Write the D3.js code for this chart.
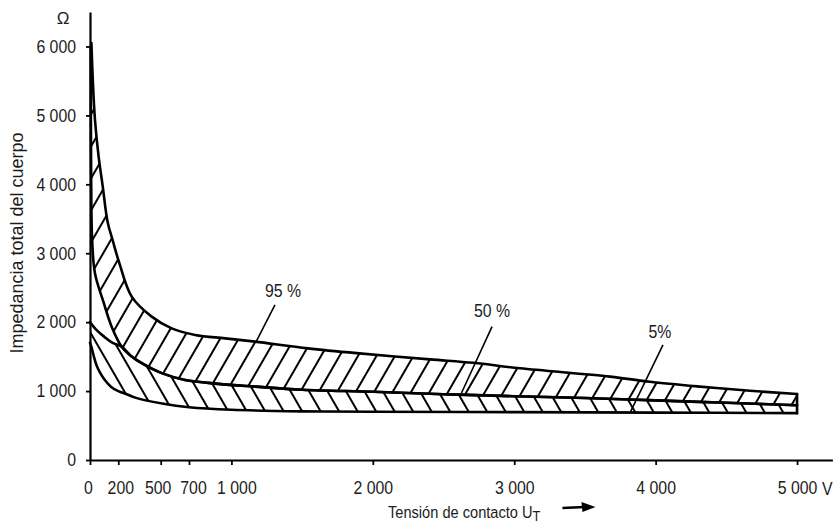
<!DOCTYPE html>
<html>
<head>
<meta charset="utf-8">
<script src="https://cdn.jsdelivr.net/npm/d3@7"></script>
<style>
  html, body { margin: 0; padding: 0; background: #fff; }
  svg { display: block; }
  text { font-family: "Liberation Sans", Arial, Helvetica, sans-serif; fill: #1c1c1c; }
</style>
</head>
<body>
<svg id="chart" width="836" height="526"></svg>
<script>
// ---- Axis ticks ----
const xTickValues = [0, 200, 500, 700, 1000, 2000, 3000, 4000, 5000];
const xTickLabels = ["0", "200", "500", "700", "1 000", "2 000", "3 000", "4 000", "5 000"];
const yTickValues = [0, 1000, 2000, 3000, 4000, 5000, 6000];
const yTickLabels = ["0", "1 000", "2 000", "3 000", "4 000", "5 000", "6 000"];

// ---- 95 % curve: contact voltage (V) / total body impedance (Ω) ----
const volts95 = [10, 20, 35, 60, 90, 125, 160, 207, 295, 436, 578, 743, 955, 1167, 1541, 1886, 2404, 2711, 3041, 3677, 3960, 4314, 4668, 5000];
const ohms95  = [6050, 5500, 4940, 4420, 3970, 3450, 3190, 2860, 2370, 2080, 1910, 1815, 1765, 1717, 1620, 1550, 1460, 1410, 1330, 1210, 1135, 1065, 1005, 958];

// ---- 50 % curve (shared edge of both bands) ----
const volts50 = [224, 290, 366, 507, 672, 907, 1167, 1500, 2000, 2500, 3000, 3500, 4000, 4500, 5000];
const ohms50  = [1645, 1510, 1405, 1260, 1160, 1105, 1065, 1020, 990, 955, 925, 900, 865, 830, 795];

// inner edge of the upper band before it joins the 50 % curve
const voltsUpperInner = [5, 8, 15, 35, 94, 153];
const ohmsUpperInner  = [6000, 4200, 3200, 2710, 2300, 1935];

// outer edge of the lower band before it joins the 50 % curve
const voltsLowerOuter = [0, 40, 100, 160];
const ohmsLowerOuter  = [2000, 1900, 1790, 1700];

// ---- 5 % curve ----
const volts5 = [0, 10, 25, 45, 70, 105, 150, 200, 260, 320, 520, 700, 1000, 1500, 2000, 3000, 4000, 5000];
const ohms5  = [1700, 1640, 1520, 1380, 1270, 1160, 1060, 1000, 955, 905, 815, 765, 728, 706, 700, 695, 688, 680];

// ---- curve labels ----
const curveLabels = ["95 %", "50 %", "5%"];

const svg = d3.select("#chart");

const x = d3.scaleLinear().domain([0, 5250]).range([90, 832.4]);
const y = d3.scaleLinear().domain([0, 6500]).range([460, 12]);

const zip = (vs, os) => vs.map((v, i) => [v, os[i]]);
const curve95 = zip(volts95, ohms95);
const curve50 = zip(volts50, ohms50);
const upperInner = zip(voltsUpperInner, ohmsUpperInner).concat(curve50);
const lowerOuter = zip(voltsLowerOuter, ohmsLowerOuter).concat(curve50);
const curve5 = zip(volts5, ohms5);

const line = d3.line()
  .x(d => x(d[0]))
  .y(d => y(d[1]))
  .curve(d3.curveCatmullRom.alpha(0.5));

const bandPath = (top, bottom) =>
  line(top) + line(bottom.slice().reverse()).replace(/^M/, "L") + "Z";

// ---- hatch patterns ----
const defs = svg.append("defs");
function hatch(id, angle, gap) {
  const p = defs.append("pattern")
    .attr("id", id)
    .attr("patternUnits", "userSpaceOnUse")
    .attr("width", gap)
    .attr("height", 20)
    .attr("patternTransform", `rotate(${angle})`);
  p.append("line")
    .attr("x1", gap / 2).attr("y1", -2)
    .attr("x2", gap / 2).attr("y2", 22)
    .attr("stroke", "#000")
    .attr("stroke-width", 2);
}
hatch("hatchUp", 30, 16);
hatch("hatchDown", -30, 16);

// ---- bands ----
svg.append("path")
  .attr("d", bandPath(curve95, upperInner))
  .attr("fill", "url(#hatchUp)");
svg.append("path")
  .attr("d", bandPath(lowerOuter, curve5))
  .attr("fill", "url(#hatchDown)");

// ---- curves ----
const curves = svg.append("g")
  .attr("fill", "none")
  .attr("stroke", "#000")
  .attr("stroke-width", 2.6)
  .attr("stroke-linejoin", "round")
  .attr("stroke-linecap", "round");
[curve95, upperInner, lowerOuter, curve5].forEach(c => curves.append("path").attr("d", line(c)));

// closing edge at the last voltage
const vEnd = volts95[volts95.length - 1];
curves.append("line")
  .attr("x1", x(vEnd)).attr("x2", x(vEnd))
  .attr("y1", y(ohms95[ohms95.length - 1]))
  .attr("y2", y(ohms5[ohms5.length - 1]));

// ---- axes ----
const squeeze = 0.88;
// small horizontal nudges so the crowded low-voltage labels stay apart
const xLabelNudge = [-2, 2, -3, 4, 5, 0, 0, 0, 0];

const xAxis = svg.append("g")
  .attr("transform", `translate(0,${y(0)})`)
  .call(d3.axisBottom(x)
    .tickValues(xTickValues)
    .tickFormat((d, i) => xTickLabels[i])
    .tickSize(5)
    .tickSizeOuter(0)
    .tickPadding(16));

const yAxis = svg.append("g")
  .attr("transform", `translate(${x(0)},0)`)
  .call(d3.axisLeft(y)
    .tickValues(yTickValues)
    .tickFormat((d, i) => yTickLabels[i])
    .tickSize(4)
    .tickSizeOuter(0)
    .tickPadding(10));

[xAxis, yAxis].forEach(g => {
  g.select(".domain").attr("stroke", "#000").attr("stroke-width", 2.2);
  g.selectAll(".tick line").attr("stroke", "#000").attr("stroke-width", 1.8);
  g.selectAll(".tick text")
    .attr("font-family", null)
    .attr("font-size", 18)
    .attr("fill", "#1c1c1c")
    .attr("transform", `scale(${squeeze},1)`);
});
yAxis.selectAll(".tick text").attr("x", -14 / squeeze);
xAxis.selectAll(".tick text").attr("x", (d, i) => xLabelNudge[i] / squeeze);

// unit labels
const vx = x(vEnd) + 25;
svg.append("text")
  .attr("transform", `translate(${vx},${y(0) + 35}) scale(${squeeze},1)`)
  .attr("font-size", 18)
  .text("V");

svg.append("text")
  .attr("x", 63).attr("y", 24)
  .attr("text-anchor", "middle")
  .attr("font-size", 17)
  .text("Ω");

// axis titles
svg.append("text")
  .attr("transform", "translate(17,243) rotate(-90)")
  .attr("text-anchor", "middle")
  .attr("dy", "0.35em")
  .attr("font-size", 18)
  .text("Impedancia total del cuerpo");

const titleX = 388, titleY = 518, titleSqueeze = 0.86;
const xTitle = svg.append("text")
  .attr("transform", `translate(${titleX},${titleY}) scale(${titleSqueeze},1)`)
  .attr("font-size", 17);
xTitle.append("tspan").text("Tensión de contacto U");
xTitle.append("tspan").attr("font-size", 15).attr("dy", 3).text("T");

const titleEnd = titleX + xTitle.node().getComputedTextLength() * titleSqueeze;
const arrowY = 507;
svg.append("line")
  .attr("x1", titleEnd + 22).attr("x2", titleEnd + 44)
  .attr("y1", arrowY + 1).attr("y2", arrowY)
  .attr("stroke", "#000").attr("stroke-width", 2.4);
svg.append("path")
  .attr("d", `M${titleEnd + 55},${arrowY} L${titleEnd + 41},${arrowY - 5} L${titleEnd + 42},${arrowY + 5} Z`)
  .attr("fill", "#000");

// ---- curve labels with leader lines (data units) ----
const annotations = [
  { text: curveLabels[0], at: [1365, 2360], from: [1308, 2250], to: [1174, 1713] },
  { text: curveLabels[1], at: [2843, 2070], from: [2843, 1935], to: [2627, 972] },
  { text: curveLabels[2], at: [4030, 1770], from: [4052, 1669], to: [3822, 697] }
];
annotations.forEach(a => {
  svg.append("line")
    .attr("x1", x(a.from[0])).attr("y1", y(a.from[1]))
    .attr("x2", x(a.to[0])).attr("y2", y(a.to[1]))
    .attr("stroke", "#000").attr("stroke-width", 1.6);
  svg.append("text")
    .attr("transform", `translate(${x(a.at[0])},${y(a.at[1])}) scale(${squeeze},1)`)
    .attr("text-anchor", "middle")
    .attr("font-size", 18)
    .text(a.text);
});
</script>
</body>
</html>
